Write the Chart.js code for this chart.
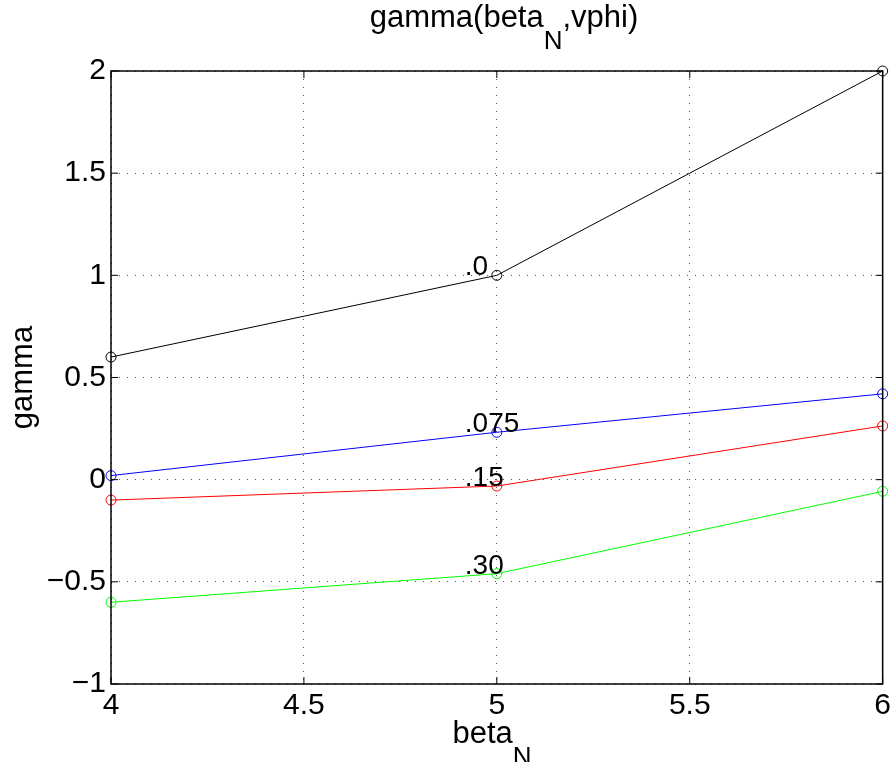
<!DOCTYPE html>
<html>
<head>
<meta charset="utf-8">
<script src="https://cdn.jsdelivr.net/npm/chart.js@4.4.1/dist/chart.umd.min.js"></script>
<style>
  html, body { margin: 0; padding: 0; background: #fff; }
  #wrap { width: 895px; height: 762px; }
</style>
</head>
<body>
<div id="wrap"><canvas id="chart" width="895" height="762"></canvas></div>
<script>
// beta_N (x)
const betaN = [4, 5, 6];

// gamma pour chaque vphi
const gammaV0 = [0.6, 1.0, 2.0];
const gammaV075 = [0.02, 0.232, 0.42];
const gammaV15 = [-0.1, -0.031, 0.263];
const gammaV30 = [-0.6, -0.46, -0.057];

const seriesLabels = ['.0', '.075', '.15', '.30'];
const seriesColors = ['#000000', '#0000ff', '#ff0000', '#00ff00'];

const xTicks = [4, 4.5, 5, 5.5, 6];
const yTicks = [-1, -0.5, 0, 0.5, 1, 1.5, 2];

const FONT = '"Liberation Sans", Arial, Helvetica, sans-serif';

// --------------------------------------------------------------------------

const toPoints = vals => betaN.map((x, i) => ({ x, y: vals[i] }));

const makeDataset = (vals, i) => ({
    label: seriesLabels[i],
    data: toPoints(vals),
    borderColor: seriesColors[i],
    borderWidth: 1,
    pointBorderColor: seriesColors[i],
    pointBackgroundColor: 'rgba(0,0,0,0)',
    pointRadius: 5,
    pointBorderWidth: 1,
    tension: 0,
    clip: false
});

const fmt = v => String(v).replace('-', '\u2212');

// texte avec indice (beta_N)
const drawSubText = (ctx, parts, x, y, size, subSize, align) => {
    const widths = parts.map(p => {
        ctx.font = `${p.sub ? subSize : size}px ${FONT}`;
        return ctx.measureText(p.t).width;
    });
    const total = widths.reduce((a, b) => a + b, 0);
    let cx = align === 'center' ? x - total / 2 : x;
    parts.forEach((p, i) => {
        ctx.font = `${p.sub ? subSize : size}px ${FONT}`;
        ctx.fillText(p.t, cx, p.sub ? y + 22 : y);
        cx += widths[i];
    });
};

// --------------------------------------------------------------------------

const matlabLook = {
    id: 'matlabLook',
    afterDatasetsDraw(chart) {
        const { ctx, chartArea: a, scales } = chart;
        ctx.save();
        ctx.fillStyle = '#000';
        ctx.strokeStyle = '#000';

        // cadre
        ctx.lineWidth = 1.5;
        ctx.strokeRect(a.left, a.top, a.right - a.left, a.bottom - a.top);

        // graduations vers l'interieur
        ctx.lineWidth = 1;
        ctx.beginPath();
        xTicks.forEach(v => {
            const px = scales.x.getPixelForValue(v);
            ctx.moveTo(px, a.bottom); ctx.lineTo(px, a.bottom - 7);
            ctx.moveTo(px, a.top); ctx.lineTo(px, a.top + 7);
        });
        yTicks.forEach(v => {
            const py = scales.y.getPixelForValue(v);
            ctx.moveTo(a.left, py); ctx.lineTo(a.left + 7, py);
            ctx.moveTo(a.right, py); ctx.lineTo(a.right - 7, py);
        });
        ctx.stroke();

        // etiquettes des courbes
        ctx.font = `28px ${FONT}`;
        ctx.textAlign = 'left';
        ctx.textBaseline = 'alphabetic';
        chart.data.datasets.forEach((ds, i) => {
            const el = chart.getDatasetMeta(i).data[1];
            ctx.fillText(ds.label, el.x - 32, el.y);
        });

        // titre
        ctx.textAlign = 'left';
        drawSubText(ctx, [{ t: 'gamma(beta' }, { t: 'N', sub: true }, { t: ',vphi)' }],
            504, 27, 31, 26, 'center');

        // titre axe x
        drawSubText(ctx, [{ t: 'beta' }, { t: 'N', sub: true }],
            492, 743, 31, 26, 'center');

        // titre axe y
        ctx.translate(32, (a.top + a.bottom) / 2);
        ctx.rotate(-Math.PI / 2);
        ctx.textAlign = 'center';
        ctx.font = `31px ${FONT}`;
        ctx.fillText('gamma', 0, 0);

        ctx.restore();
    }
};

// --------------------------------------------------------------------------

new Chart(document.getElementById('chart'), {
    type: 'line',
    data: {
        datasets: [gammaV0, gammaV075, gammaV15, gammaV30].map(makeDataset)
    },
    options: {
        responsive: false,
        animation: false,
        layout: { padding: { left: 0, right: 7, top: 71, bottom: 0 } },
        plugins: {
            legend: { display: false },
            tooltip: { enabled: false },
            title: { display: false }
        },
        scales: {
            x: {
                type: 'linear',
                min: 4,
                max: 6,
                afterFit: s => { s.height = 78; },
                afterBuildTicks: s => { s.ticks = xTicks.map(value => ({ value })); },
                grid: { color: '#555', lineWidth: 1, drawTicks: false },
                border: { display: false, dash: [1, 7] },
                ticks: {
                    autoSkip: false,
                    maxRotation: 0,
                    padding: 4,
                    color: '#000',
                    font: { family: FONT, size: 30 },
                    callback: fmt
                }
            },
            y: {
                min: -1,
                max: 2,
                afterFit: s => { s.width = 111; },
                afterBuildTicks: s => { s.ticks = yTicks.map(value => ({ value })); },
                grid: { color: '#555', lineWidth: 1, drawTicks: false },
                border: { display: false, dash: [1, 7] },
                ticks: {
                    autoSkip: false,
                    padding: 5,
                    color: '#000',
                    font: { family: FONT, size: 30 },
                    callback: fmt
                }
            }
        }
    },
    plugins: [matlabLook]
});
</script>
</body>
</html>
